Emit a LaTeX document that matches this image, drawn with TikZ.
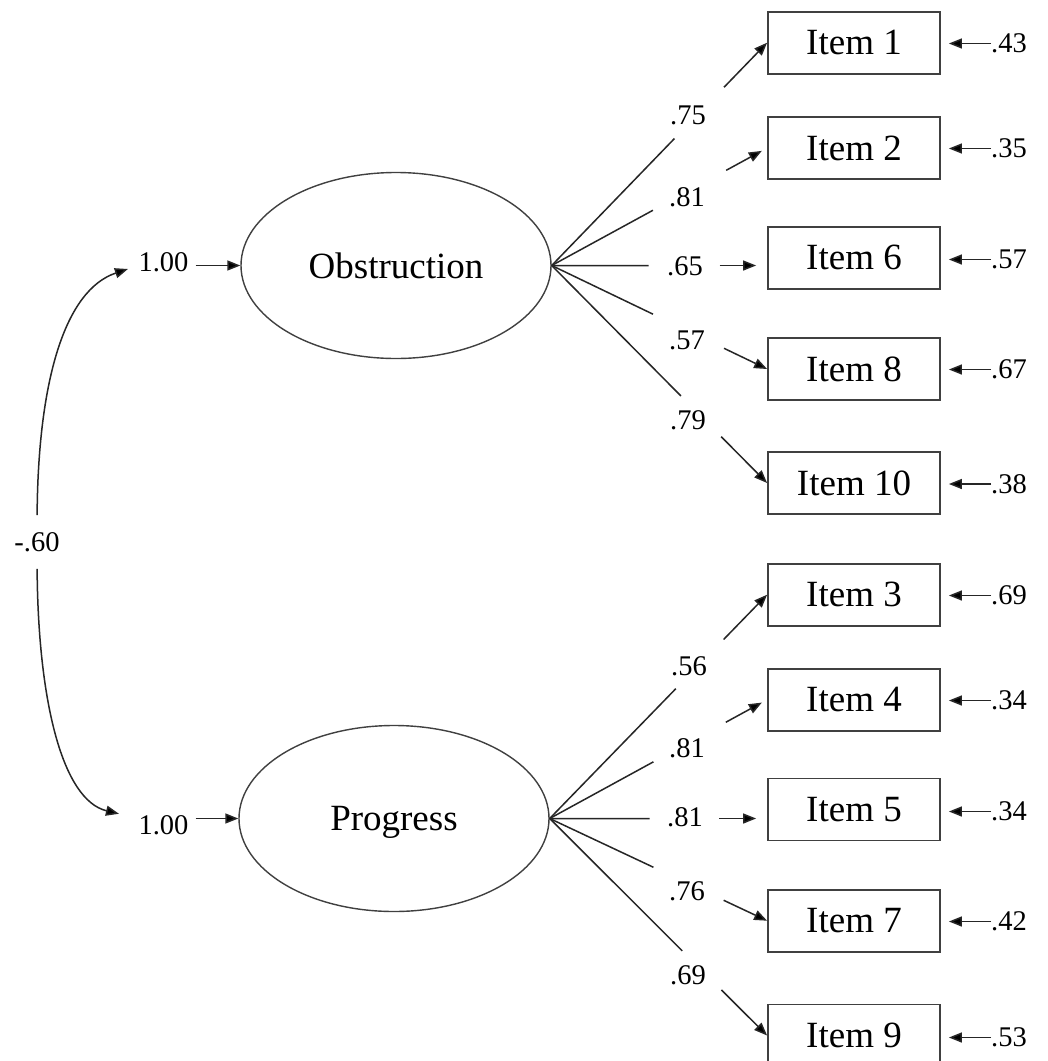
\documentclass[tikz,border=0pt]{standalone}
\usepackage{fontspec}
\setmainfont{Liberation Serif}
\usetikzlibrary{shapes.geometric,arrows.meta,calc}
\begin{document}
\begin{tikzpicture}[x=1pt,y=-1pt,
  ln/.style={line width=1.5pt, draw=black!85},
  arr/.style={ln, -{Triangle[length=13pt,width=10pt,fill=black]}},
  itembox/.style={draw=black!75, line width=1.8pt, minimum width=172pt, minimum height=62pt, inner sep=0pt, text depth=0pt, font=\fontsize{37}{40}\selectfont},
  latent/.style={ellipse, draw=black!75, line width=1.4pt, minimum width=310pt, minimum height=186pt, inner sep=0pt, text depth=0pt, font=\fontsize{37}{40}\selectfont},
  lab/.style={inner sep=0pt, font=\fontsize{28.5}{31}\selectfont}]
\useasboundingbox[fill=white] (0,0) rectangle (1048,1061);

% latent variables
\node[latent] (O) at (396,265.5) {Obstruction};
\node[latent] (P) at (394,818.5) {Progress};

% items
\node[itembox] (I1)  at (854,42.7)  {Item 1};
\node[itembox] (I2)  at (854,148)   {Item 2};
\node[itembox] (I6)  at (854,257.7) {Item 6};
\node[itembox] (I8)  at (854,369)   {Item 8};
\node[itembox] (I10) at (854,483)   {Item 10};
\node[itembox] (I3)  at (854,594.7) {Item 3};
\node[itembox] (I4)  at (854,699.7) {Item 4};
\node[itembox] (I5)  at (854,809.5) {Item 5};
\node[itembox] (I7)  at (854,920.7) {Item 7};
\node[itembox] (I9)  at (854,1035.5){Item 9};

% variances and correlation
\node[lab] (one1) at (163.5,262) {1.00};
\node[lab] (one2) at (163.5,825) {1.00};
\node[lab] (cor) at (37,542) {-.60};

\draw[arr, shorten <=7pt] (one1.east |- O.west) -- (O.west);
\draw[arr, shorten <=7pt] (one2.east |- P.west) -- (P.west);
\draw[arr, shorten <=17pt, shorten >=11pt] (cor.north) .. controls (38,380) and (65,290) .. (one1.west |- O.west);
\draw[arr, shorten <=17pt, shorten >=20pt] (cor.south) .. controls (38,700) and (62,800) .. (one2.west |- P.west);

% loadings, Obstruction
\node[lab] (L1)  at (688,115) {.75};
\node[lab] (L2)  at (687,197) {.81};
\node[lab] (L6)  at (685,266) {.65};
\node[lab] (L8)  at (687,340) {.57};
\node[lab] (L10) at (688,420) {.79};
\draw[ln] (O.east) -- ($(O.east)!0.57!(I1.west)$);
\draw[arr] ($(O.east)!0.80!(I1.west)$) -- (I1.west);
\draw[ln] (O.east) -- ($(O.east)!0.47!(I2.west)$);
\draw[arr, shorten >=6pt] ($(O.east)!0.81!(I2.west)$) -- (I2.west);
\draw[ln] (O.east) -- ($(O.east)!0.45!(O.east -| I6.west)$);
\draw[arr, shorten >=11pt] ($(O.east)!0.78!(O.east -| I6.west)$) -- (O.east -| I6.west);
\draw[ln] (O.east) -- ($(O.east)!0.47!(I8.west)$);
\draw[arr] ($(O.east)!0.80!(I8.west)$) -- (I8.west);
\draw[ln] (O.east) -- ($(O.east)!0.60!(I10.west)$);
\draw[arr] ($(O.east)!0.787!(I10.west)$) -- (I10.west);

% loadings, Progress
\node[lab] (L3) at (689,666)   {.56};
\node[lab] (L4) at (687,748.3) {.81};
\node[lab] (L5) at (685,817.3) {.81};
\node[lab] (L7) at (687,891.7) {.76};
\node[lab] (L9) at (688,975)   {.69};
\draw[ln] (P.east) -- ($(P.east)!0.58!(I3.west)$);
\draw[arr] ($(P.east)!0.80!(I3.west)$) -- (I3.west);
\draw[ln] (P.east) -- ($(P.east)!0.477!(I4.west)$);
\draw[arr, shorten >=6pt] ($(P.east)!0.81!(I4.west)$) -- (I4.west);
\draw[ln] (P.east) -- ($(P.east)!0.46!(P.east -| I5.west)$);
\draw[arr, shorten >=11pt] ($(P.east)!0.78!(P.east -| I5.west)$) -- (P.east -| I5.west);
\draw[ln] (P.east) -- ($(P.east)!0.477!(I7.west)$);
\draw[arr] ($(P.east)!0.80!(I7.west)$) -- (I7.west);
\draw[ln] (P.east) -- ($(P.east)!0.61!(I9.west)$);
\draw[arr] ($(P.east)!0.79!(I9.west)$) -- (I9.west);

% residuals
\foreach \n/\v/\y in {I1/.43/43.5, I2/.35/148.5, I6/.57/259.5, I8/.67/369.5, I10/.38/484,
                      I3/.69/595.5, I4/.34/700.5, I5/.34/811.5, I7/.42/921.5, I9/.53/1037.5} {
  \node[lab, anchor=west] (r\n) at (991,\y) {\v};
  \draw[arr, shorten >=8pt] (r\n.west) -- (r\n.west -| \n.east);
}
\end{tikzpicture}
\end{document}
